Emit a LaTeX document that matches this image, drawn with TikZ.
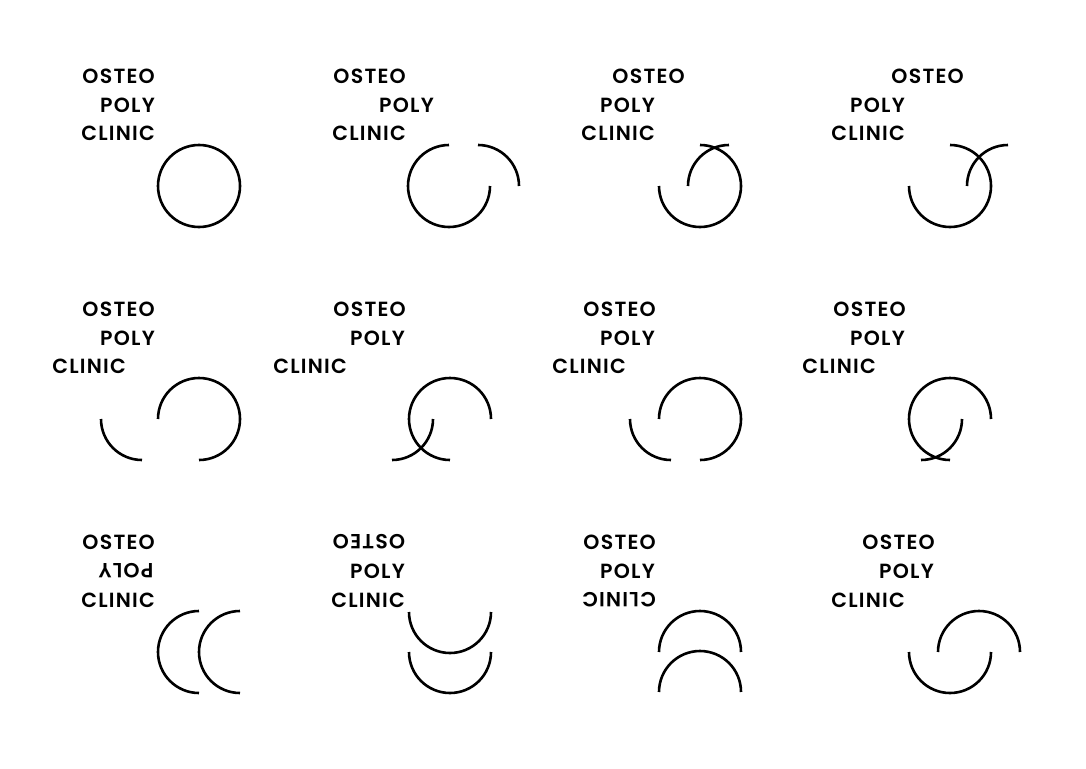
\documentclass[tikz,border=0pt]{standalone}
\usepackage{fontspec}
\setmainfont{Poppins}[LetterSpace=6,BoldFont={Poppins SemiBold}]
\usepackage{tikz}
\tikzset{
	word/.style={font=\fontsize{20.5}{22}\selectfont\bfseries,inner sep=0pt,anchor=base east},
	stroke/.style={line width=2.6pt,black}
}
\begin{document}
\begin{tikzpicture}[x=1pt,y=-1pt]
		\useasboundingbox (0,0) rectangle (1086,768);
		% top row
		\node[word] (osteoA) at (155,83) {OSTEO};
		\node[word] (polyA) at (155,112) {POLY};
		\node[word] (clinicA) at (155,140.5) {CLINIC};
		\draw [stroke] (199,186) circle (41);
		\node[word] (osteoB) at (406,83) {OSTEO};
		\node[word] (polyB) at (434,112) {POLY};
		\node[word] (clinicB) at (406,140.5) {CLINIC};
		\draw [stroke] (449,145) arc (-90:-360:41);
		\draw [stroke] (478,145) arc (-90:0:41);
		\node[word] (osteoC) at (685,83) {OSTEO};
		\node[word] (polyC) at (655,112) {POLY};
		\node[word] (clinicC) at (655,140.5) {CLINIC};
		\draw [stroke] (659,186) arc (-180:-450:41);
		\draw [stroke] (688,186) arc (-180:-90:41);
		\node[word] (osteoD) at (964,83) {OSTEO};
		\node[word] (polyD) at (905,112) {POLY};
		\node[word] (clinicD) at (905,140.5) {CLINIC};
		\draw [stroke] (909,186) arc (-180:-450:41);
		\draw [stroke] (967,186) arc (-180:-90:41);
		% middle row
		\node[word] (osteoE) at (155,316) {OSTEO};
		\node[word] (polyE) at (155,345) {POLY};
		\node[word] (clinicE) at (126,373.5) {CLINIC};
		\draw [stroke] (158,419) arc (-180:90:41);
		\draw [stroke] (101,419) arc (-180:-270:41);
		\node[word] (osteoF) at (406,316) {OSTEO};
		\node[word] (polyF) at (405,345) {POLY};
		\node[word] (clinicF) at (347,373.5) {CLINIC};
		\draw [stroke] (491,419) arc (0:-270:41);
		\draw [stroke] (433,419) arc (0:90:41);
		\node[word] (osteoG) at (656,316) {OSTEO};
		\node[word] (polyG) at (655,345) {POLY};
		\node[word] (clinicG) at (626,373.5) {CLINIC};
		\draw [stroke] (659,419) arc (-180:90:41);
		\draw [stroke] (630,419) arc (-180:-270:41);
		\node[word] (osteoH) at (906,316) {OSTEO};
		\node[word] (polyH) at (905,345) {POLY};
		\node[word] (clinicH) at (876,373.5) {CLINIC};
		\draw [stroke] (991,419) arc (0:-270:41);
		\draw [stroke] (962,419) arc (0:90:41);
		% bottom row
		\node[word] (osteoI) at (155,549) {OSTEO};
		\node[word,anchor=center,rotate=180] (polyI) at (126,571) {POLY};
		\node[word] (clinicI) at (155,607) {CLINIC};
		\draw [stroke] (199,611) arc (-90:-270:41);
		\draw [stroke] (240,611) arc (-90:-270:41);
		\node[word,anchor=center,rotate=180] (osteoJ) at (369,542) {OSTEO};
		\node[word] (polyJ) at (405,578) {POLY};
		\node[word] (clinicJ) at (405,607) {CLINIC};
		\draw [stroke] (409,612) arc (-180:-360:41);
		\draw [stroke] (409,652) arc (-180:-360:41);
		\node[word] (osteoK) at (656,549) {OSTEO};
		\node[word] (polyK) at (655,578) {POLY};
		\node[word,anchor=center,rotate=180] (clinicK) at (619,600) {CLINIC};
		\draw [stroke] (659,652) arc (-180:0:41);
		\draw [stroke] (659,692) arc (-180:0:41);
		\node[word] (osteoL) at (935,549) {OSTEO};
		\node[word] (polyL) at (934,578) {POLY};
		\node[word] (clinicL) at (905,607) {CLINIC};
		\draw [stroke] (909,652) arc (-180:-360:41);
		\draw [stroke] (938,652) arc (-180:0:41);
		\end{tikzpicture}
\end{document}
